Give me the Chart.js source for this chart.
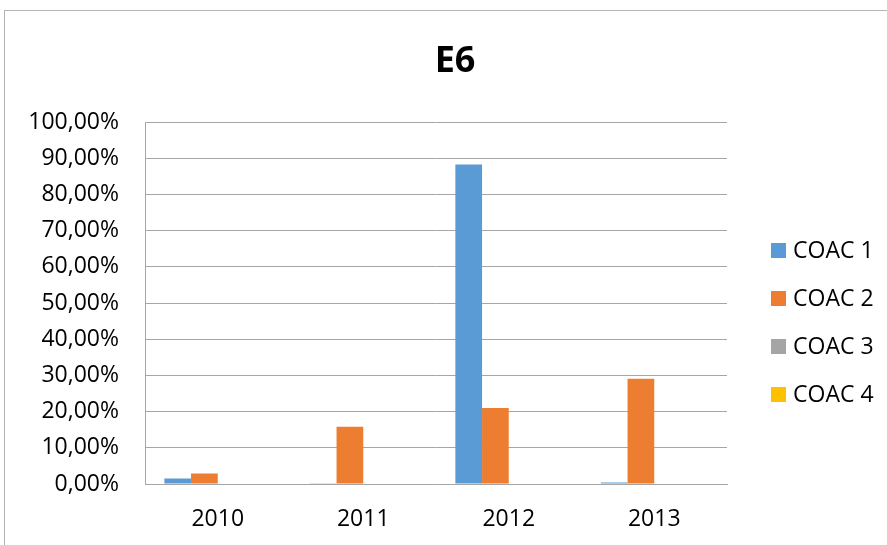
<!DOCTYPE html>
<html>
<head>
<meta charset="utf-8">
<title>E6</title>
<script src="https://cdn.jsdelivr.net/npm/chart.js@4.4.1/dist/chart.umd.min.js"></script>
<style>
    html, body { margin: 0; padding: 0; background: #fff; overflow: hidden; }
    #wrap { position: relative; width: 887px; height: 545px; }
    #frame { position: absolute; left: 4px; top: 10px; width: 920px; height: 600px; border: 1px solid #b4b4b4; }
    #chart { position: absolute; left: 0; top: 0; }
</style>
</head>
<body>
<div id="wrap">
    <div id="frame"></div>
    <canvas id="chart" width="887" height="545"></canvas>
</div>
<script>
const years = ["2010", "2011", "2012", "2013"];
const seriesNames = ["COAC 1", "COAC 2", "COAC 3", "COAC 4"];
const coac1 = [1.5, 0.1, 88.3, 0.4];
const coac2 = [2.9, 15.8, 21.0, 29.1];
const coac3 = [0, 0, 0, 0];
const coac4 = [0, 0, 0, 0];
const colors = ["#5b9bd5", "#ed7d31", "#a5a5a5", "#ffc000"];

const FONT = "'Open Sans', 'Liberation Sans', sans-serif";

function pct(v) {
    return v.toFixed(2).replace(".", ",") + "%";
}

// legend on the right, square swatch + label per series
const sideLegend = {
    id: "sideLegend",
    afterDraw(chart, args, opts) {
        const ctx = chart.ctx;
        const area = chart.chartArea;
        const x = area.right + opts.offsetX;
        let y = opts.top;
        ctx.save();
        ctx.font = "23px " + FONT;
        ctx.textBaseline = "middle";
        ctx.textAlign = "left";
        chart.data.datasets.forEach(ds => {
            ctx.fillStyle = ds.backgroundColor;
            ctx.fillRect(x, y - 7.5, 15, 15);
            ctx.fillStyle = "#000";
            ctx.fillText(ds.label, x + 22, y + 1);
            y += opts.rowGap;
        });
        ctx.restore();
    }
};

const ctx = document.getElementById("chart").getContext("2d");
new Chart(ctx, {
    type: "bar",
    data: {
        labels: years,
        datasets: [coac1, coac2, coac3, coac4].map((vals, i) => ({
            label: seriesNames[i],
            data: vals,
            backgroundColor: colors[i],
            categoryPercentage: 0.734,
            barPercentage: 1
        }))
    },
    options: {
        responsive: false,
        animation: false,
        devicePixelRatio: 1,
        layout: { padding: { left: 23, right: 0, top: 0, bottom: 0 } },
        plugins: {
            legend: { display: false },
            tooltip: { enabled: false },
            title: {
                display: true,
                text: "E6",
                color: "#000",
                font: { family: FONT, size: 36, weight: "bold" },
                padding: { top: 40, bottom: 39 }
            },
            sideLegend: { offsetX: 44, top: 250.5, rowGap: 48 }
        },
        scales: {
            x: {
                grid: { display: false, drawTicks: false },
                border: { display: true, color: "#a6a6a6", width: 1 },
                ticks: { color: "#000", font: { family: FONT, size: 23 }, padding: 22 },
                afterFit(scale) { scale.height = 61; }
            },
            y: {
                min: 0,
                max: 100,
                grid: { color: "#a6a6a6", drawTicks: false },
                border: { display: true, color: "#a6a6a6", width: 1 },
                ticks: {
                    stepSize: 10,
                    color: "#000",
                    font: { family: FONT, size: 23 },
                    padding: 26,
                    callback: v => pct(v)
                },
                afterFit(scale) { scale.width = 122; }
            },
            // empty right-hand axis that reserves room for the legend
            side: {
                position: "right",
                grid: { display: false, drawTicks: false },
                border: { display: false },
                ticks: { display: false },
                afterFit(scale) { scale.width = 160; }
            }
        }
    },
    plugins: [sideLegend]
});
</script>
</body>
</html>
